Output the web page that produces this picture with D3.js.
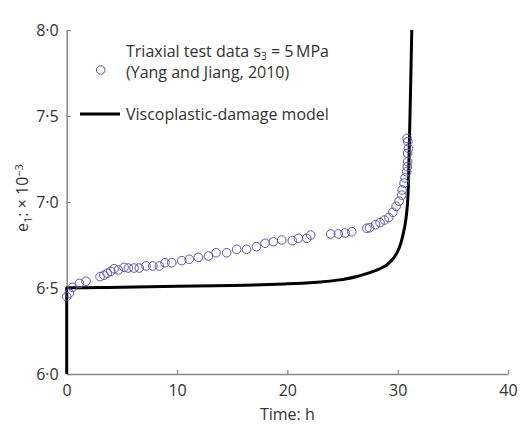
<!DOCTYPE html>
<html>
<head>
<meta charset="utf-8">
<script src="https://cdn.jsdelivr.net/npm/d3@7"></script>
<style>
  html, body { margin: 0; padding: 0; background: #fff; }
  svg { display: block; font-family: "Open Sans", "Noto Sans", sans-serif; }
</style>
</head>
<body>
<svg id="chart" width="520" height="426"></svg>
<script>
// ---- data ----
const xTicks = [0, 10, 20, 30, 40];
const yTicks = [6.0, 6.5, 7.0, 7.5, 8.0];
const yTickLabels = ["6·0", "6·5", "7·0", "7·5", "8·0"];

const testTime = [0, 0.24, 0.54, 1.15, 1.75, 3.02, 3.38, 3.68, 3.99, 4.29, 4.68, 5.2, 5.59, 6.1, 6.58,
  7.19, 7.8, 8.4, 8.91, 9.52, 10.43, 11.1, 11.93, 12.84, 13.54, 14.5, 15.41, 16.3, 17.2, 17.98,
  18.73, 19.49, 20.45, 21.0, 21.76, 22.12, 23.93, 24.62, 25.23, 25.84, 27.2, 27.45, 28.0, 28.4,
  28.8, 29.2, 29.56, 29.86, 30.13, 30.37, 30.4, 30.58, 30.67, 30.82, 30.88, 30.9, 30.9, 30.97,
  30.92, 30.85];
const testStrain = [6.45, 6.47, 6.504, 6.527, 6.539, 6.566, 6.574, 6.586, 6.597, 6.612, 6.605, 6.62,
  6.616, 6.616, 6.616, 6.628, 6.628, 6.628, 6.647, 6.647, 6.659, 6.667, 6.678, 6.686, 6.705, 6.705,
  6.725, 6.725, 6.74, 6.76, 6.769, 6.779, 6.775, 6.789, 6.789, 6.808, 6.814, 6.814, 6.82, 6.827,
  6.847, 6.85, 6.868, 6.88, 6.895, 6.91, 6.94, 6.975, 7.005, 7.04, 7.07, 7.11, 7.14, 7.176, 7.205,
  7.234, 7.283, 7.312, 7.351, 7.37];

const modelTime = [0, 0, 5, 10, 15, 20, 23, 25, 26.6, 27.5, 28.1, 28.6, 29.0, 29.3, 29.6, 29.9,
  30.15, 30.37, 30.55, 30.7, 30.82, 30.92, 31.03, 31.15, 31.28];
const modelStrain = [6.0, 6.5, 6.505, 6.51, 6.515, 6.524, 6.535, 6.55, 6.572, 6.59, 6.604, 6.619,
  6.634, 6.65, 6.672, 6.70, 6.735, 6.78, 6.83, 6.88, 6.94, 7.02, 7.26, 7.6, 8.0];

// ---- layout ----
const svg = d3.select("#chart");
const x = d3.scaleLinear().domain([0, 40]).range([66.7, 508]);
const y = d3.scaleLinear().domain([6.0, 8.0]).range([374, 30]);
const axisColor = "#888";
const textColor = "#333";
const fs = 16;

// axes
const xAxis = svg.append("g").attr("transform", `translate(0,${y(6.0)})`)
  .call(d3.axisBottom(x).tickValues(xTicks).tickSizeInner(-4).tickSizeOuter(0).tickPadding(11));
const yAxis = svg.append("g").attr("transform", `translate(${x(0)},0)`)
  .call(d3.axisLeft(y).tickValues(yTicks).tickFormat((d, i) => yTickLabels[i])
    .tickSizeInner(-4).tickSizeOuter(0).tickPadding(8));
[xAxis, yAxis].forEach(g => {
  g.select(".domain").attr("stroke", axisColor).attr("stroke-width", 1.5);
  g.selectAll(".tick line").attr("stroke", axisColor).attr("stroke-width", 1.2);
  g.selectAll(".tick text").attr("fill", textColor).attr("font-size", fs)
    .attr("font-family", "'Open Sans', 'Noto Sans', sans-serif");
});

// axis titles
svg.append("text").attr("x", (x(0) + x(40)) / 2).attr("y", 420).attr("text-anchor", "middle")
  .attr("font-size", fs).attr("fill", textColor).text("Time: h");

const yl = svg.append("text").attr("transform", `translate(28,198) rotate(-90)`)
  .attr("text-anchor", "middle").attr("font-size", fs).attr("fill", textColor);
yl.append("tspan").text("e");
yl.append("tspan").attr("font-size", 11).attr("dy", 4).text("1");
yl.append("tspan").attr("dy", -4).text(": × 10");
yl.append("tspan").attr("font-size", 11).attr("dy", -5).text("−3");

// model line
const modelData = modelTime.map((t, i) => [t, modelStrain[i]]);
svg.append("path").datum(modelData)
  .attr("fill", "none").attr("stroke", "#000").attr("stroke-width", 3)
  .attr("stroke-linejoin", "round")
  .attr("d", d3.line().x(d => x(d[0])).y(d => y(d[1])).curve(d3.curveMonotoneY));

// test data points
const testData = testTime.map((t, i) => [t, testStrain[i]]);
const circleColor = "#5a5aaa";
svg.append("g").selectAll("circle").data(testData).join("circle")
  .attr("cx", d => x(d[0])).attr("cy", d => y(d[1])).attr("r", 4.3)
  .attr("fill", "none").attr("stroke", circleColor).attr("stroke-width", 1);

// legend
svg.append("circle").attr("cx", 100.7).attr("cy", 70).attr("r", 4.3)
  .attr("fill", "none").attr("stroke", circleColor).attr("stroke-width", 1);
const l1 = svg.append("text").attr("x", 126).attr("y", 57).attr("font-size", fs).attr("fill", textColor);
l1.append("tspan").text("Triaxial test data s");
l1.append("tspan").attr("font-size", 10).attr("dy", 2.5).text("3");
l1.append("tspan").attr("dy", -2.5).text(" = 5\u2009MPa");
svg.append("text").attr("x", 126).attr("y", 78).attr("font-size", fs).attr("fill", textColor)
  .text("(Yang and Jiang, 2010)");
svg.append("line").attr("x1", 80).attr("x2", 120).attr("y1", 114).attr("y2", 114)
  .attr("stroke", "#000").attr("stroke-width", 3);
svg.append("text").attr("x", 126).attr("y", 120).attr("font-size", fs).attr("fill", textColor)
  .text("Viscoplastic-damage model");
</script>
</body>
</html>
